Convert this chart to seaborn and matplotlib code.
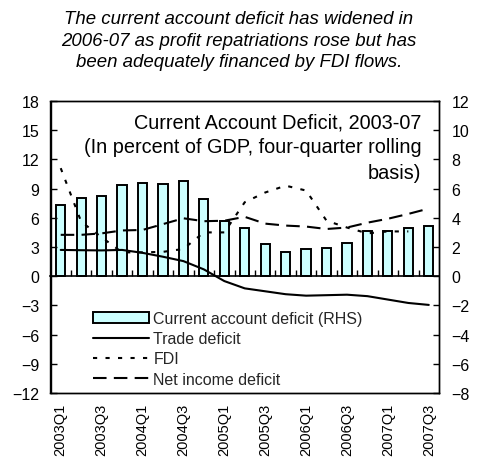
import numpy as np
import pandas as pd
import matplotlib
matplotlib.use("Agg")
import matplotlib.pyplot as plt
import seaborn as sns

# ---- data ----
quarters = ["2003Q1", "2003Q2", "2003Q3", "2003Q4", "2004Q1", "2004Q2", "2004Q3", "2004Q4",
            "2005Q1", "2005Q2", "2005Q3", "2005Q4", "2006Q1", "2006Q2", "2006Q3", "2006Q4",
            "2007Q1", "2007Q2", "2007Q3"]
current_account_rhs = [4.9, 5.36, 5.47, 6.23, 6.37, 6.33, 6.53, 5.27, 3.8, 3.27, 2.2, 1.64,
                       1.84, 1.95, 2.28, 3.12, 3.1, 3.3, 3.45]
trade_deficit = [2.7, 2.67, 2.65, 2.7, 2.4, 2.0, 1.55, 0.7, -0.5, -1.25, -1.55, -1.85,
                 -2.0, -1.95, -1.9, -2.05, -2.4, -2.75, -2.95]
fdi = [11.1, 5.6, 4.0, 2.45, 2.45, 2.5, 2.8, 4.5, 4.5, 7.6, 8.6, 9.3,
       8.8, 5.7, 5.0, 4.4, 4.6, 4.6, np.nan]
net_income_deficit = [4.25, 4.25, 4.4, 4.7, 4.75, 5.35, 5.95, 5.65, 5.7, 6.1, 5.4, 5.2,
                      5.1, 4.85, 5.0, 5.5, 5.9, 6.4, 6.95]
tick_labels = quarters[::2]
left_ticks = list(range(-12, 19, 3))
right_ticks = list(range(-8, 13, 2))

title_text = ("The current account deficit has widened in\n"
              "2006-07 as profit repatriations rose but has\n"
              "been adequately financed by FDI flows.")
inner_title = "Current Account Deficit, 2003-07\n(In percent of GDP, four-quarter rolling\nbasis)"
legend_labels = ["Current account deficit (RHS)", "Trade deficit", "FDI", "Net income deficit"]

sns.set_style("ticks")
plt.rcParams["font.family"] = ["Liberation Sans", "DejaVu Sans"]

idx = np.arange(len(quarters))
df = pd.DataFrame({"i": idx, "q": quarters, "ca": current_account_rhs,
                   "trade": trade_deficit, "fdi": fdi, "net": net_income_deficit})

fig = plt.figure(figsize=(4.78, 4.60), dpi=100)
ax = fig.add_axes([50.5 / 478, 66 / 460, 388.5 / 478, 292 / 460])
ax2 = ax.twinx()

FS = 11.5

# lines on left axis
sns.lineplot(data=df, x="i", y="trade", ax=ax, color="black", linewidth=1.5)
sns.lineplot(data=df.dropna(subset=["fdi"]), x="i", y="fdi", ax=ax, color="black",
             linewidth=1.5, linestyle=(0, (2, 4)))
sns.lineplot(data=df, x="i", y="net", ax=ax, color="black", linewidth=1.5,
             linestyle=(0, (6.5, 3.5)))

# bars on right axis
sns.barplot(data=df, x="i", y="ca", ax=ax2, color="#CCFFFF", saturation=1,
            edgecolor="black", linewidth=1.4, width=0.45)

ax.set_zorder(ax2.get_zorder() + 1)
ax.patch.set_visible(False)

ax.set_xlim(-0.5, len(quarters) - 0.5)
ax.set_ylim(left_ticks[0], left_ticks[-1])
ax2.set_ylim(right_ticks[0], right_ticks[-1])
ax.set_yticks(left_ticks)
ax2.set_yticks(right_ticks)
ax.set_xticks(idx[::2])
ax.set_xticklabels(tick_labels, rotation=90, fontsize=10.5)
ax.set_xlabel("")
ax.set_ylabel("")
ax2.set_xlabel("")
ax2.set_ylabel("")

ax.tick_params(axis="y", direction="in", length=4, width=1, pad=8, labelsize=FS, colors="black")
ax2.tick_params(axis="y", direction="in", length=4, width=1, pad=9, labelsize=FS, colors="black")
ax.tick_params(axis="x", length=0, pad=7, colors="black")

for a in (ax, ax2):
    for s in a.spines.values():
        s.set_visible(True)
        s.set_color("black")
        s.set_linewidth(1.0)

# zero line with category-boundary ticks
zero_loc = (0 - left_ticks[0]) / (left_ticks[-1] - left_ticks[0])
sec = ax.secondary_xaxis(zero_loc)
sec.set_xticks(np.arange(0.5, len(quarters) - 1, 1))
sec.tick_params(axis="x", direction="in", length=4, width=1, labelbottom=False,
                labeltop=False, colors="black")
for s in sec.spines.values():
    s.set_linewidth(1.2)
    s.set_color("black")

# inner title
ax.text(0.955, 0.962, inner_title, transform=ax.transAxes, ha="right", va="top",
        fontsize=14.3, linespacing=1.42, color="black")

# main title
fig.text(0.5, 1 - 11 / 460, title_text, ha="center", va="top", fontsize=13.4,
         style="italic", linespacing=1.35, color="black")

# legend
handles = [ax2.containers[0].patches[0]] + list(ax.lines[:3])
leg = ax.legend(handles=handles, labels=legend_labels, loc="upper left",
                bbox_to_anchor=(0.1086, 0.281), frameon=False, borderpad=0,
                borderaxespad=0, handlelength=3.5, handletextpad=0.3,
                labelspacing=0.33, fontsize=FS)

fig.savefig("out.png", dpi=100)
